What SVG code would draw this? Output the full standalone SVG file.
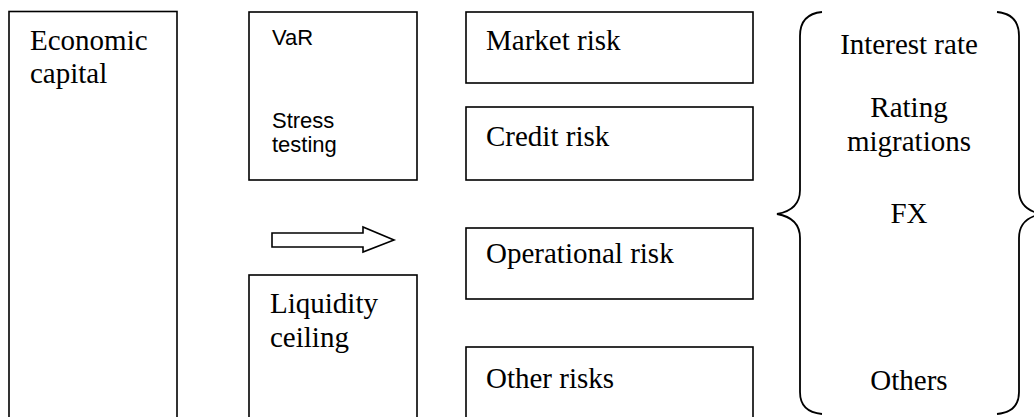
<svg xmlns="http://www.w3.org/2000/svg" width="1034" height="417" viewBox="0 0 1034 417">
<style>
.box{fill:#fff;stroke:#000;stroke-width:1.6}
.t{font-family:"Liberation Serif","Times New Roman",serif;font-size:29px;fill:#000}
.a{font-family:"Liberation Sans",Arial,sans-serif;font-size:22px;fill:#000}
.c{text-anchor:middle}
.br{fill:none;stroke:#000;stroke-width:1.8}
</style>
<rect width="1034" height="417" fill="#fff"/>
<g id="economic-capital">
<rect class="box" x="9" y="11.5" width="168" height="420"/>
<text class="t" x="30" y="50">Economic</text>
<text class="t" x="30" y="83">capital</text>
</g>
<g id="var-stress">
<rect class="box" x="249" y="12" width="168" height="168"/>
<text class="a" x="272" y="45">VaR</text>
<text class="a" x="272" y="128">Stress</text>
<text class="a" x="272" y="152">testing</text>
</g>
<g id="liquidity-ceiling">
<rect class="box" x="249" y="275" width="168" height="160"/>
<text class="t" x="270" y="313">Liquidity</text>
<text class="t" x="270" y="347">ceiling</text>
</g>
<g id="market-risk">
<rect class="box" x="466" y="12" width="287" height="71"/>
<text class="t" x="486" y="50">Market risk</text>
</g>
<g id="credit-risk">
<rect class="box" x="466" y="107" width="287" height="73"/>
<text class="t" x="486" y="146">Credit risk</text>
</g>
<g id="operational-risk">
<rect class="box" x="466" y="228" width="287" height="71"/>
<text class="t" x="486" y="263">Operational risk</text>
</g>
<g id="other-risks">
<rect class="box" x="466" y="347" width="287" height="90"/>
<text class="t" x="486" y="388">Other risks</text>
</g>
<g id="risk-factors">
<path class="br" d="M822,12 Q800,14 800,36 L800,190 Q800,210 777,214 Q800,218 800,238 L800,392 Q800,412 822,414"/>
<path class="br" d="M997,12 Q1019,14 1019,36 L1019,190 Q1019,210 1042,214 Q1019,218 1019,238 L1019,392 Q1019,412 997,414"/>
<text class="t c" x="909" y="54">Interest rate</text>
<text class="t c" x="909" y="117">Rating</text>
<text class="t c" x="909" y="151">migrations</text>
<text class="t c" x="909" y="223">FX</text>
<text class="t c" x="909" y="390">Others</text>
</g>
<g id="connectors">
<path d="M272,233 L363,233 L363,227 L394,240 L363,252 L363,247 L272,247 Z" fill="#fff" stroke="#000" stroke-width="1.6"/>
</g>
</svg>
